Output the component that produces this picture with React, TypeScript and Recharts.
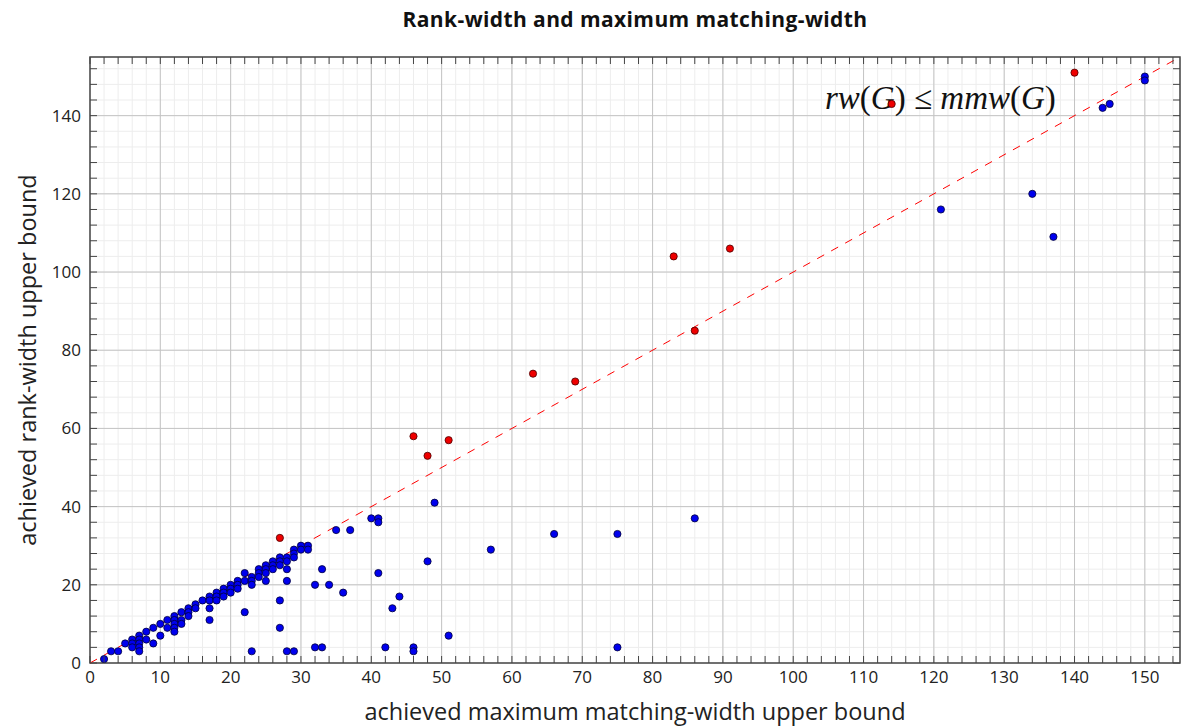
import {
  ScatterChart, Scatter, XAxis, YAxis, CartesianGrid,
  ReferenceLine, ReferenceArea, Customized,
} from "recharts";

const W = 1188;
const H = 727;
const LEFT = 90;
const TOP = 57;
const RIGHT = 8;
const BOTTOM = 64;
const PW = W - LEFT - RIGHT;
const PH = H - TOP - BOTTOM;

const font = "'Open Sans', 'Noto Sans', sans-serif";
const frame = "#444";

// (mmw, rw) pairs where rw stays under the diagonal-ish group
const blueX = [
  2, 3, 4, 5, 6, 6, 6, 7, 7, 7, 7, 7, 8, 8, 9, 9, 10, 10, 11, 11,
  12, 12, 12, 12, 12, 13, 13, 13, 14, 14, 14, 15, 15, 16, 17, 17, 17, 17, 18, 18,
  18, 19, 19, 19, 20, 20, 20, 21, 21, 21, 22, 22, 22, 23, 23, 23, 23, 24, 24, 24,
  25, 25, 25, 25, 26, 26, 26, 27, 27, 27, 27, 27, 28, 28, 28, 28, 28, 29, 29, 29,
  29, 30, 30, 31, 31, 32, 32, 33, 33, 34, 35, 36, 37, 40, 41, 41, 41, 42, 43, 44,
  46, 46, 48, 49, 51, 57, 66, 75, 75, 86, 121, 134, 137, 144, 145, 150, 150,
];
const blueY = [
  1, 3, 3, 5, 6, 5, 4, 7, 6, 5, 4, 3, 8, 6, 9, 5, 10, 7, 11, 9,
  12, 11, 10, 9, 8, 13, 11, 10, 14, 13, 12, 15, 14, 16, 17, 16, 14, 11, 18, 17,
  16, 19, 18, 17, 20, 19, 18, 21, 20, 19, 23, 21, 13, 22, 21, 20, 3, 24, 23, 22,
  25, 24, 23, 21, 26, 25, 24, 27, 26, 25, 16, 9, 27, 26, 24, 21, 3, 29, 28, 27,
  3, 30, 29, 30, 29, 20, 4, 24, 4, 20, 34, 18, 34, 37, 37, 36, 23, 4, 14, 17,
  4, 3, 26, 41, 7, 29, 33, 33, 4, 37, 116, 120, 109, 142, 143, 150, 149,
];

const redX = [27, 46, 48, 51, 63, 69, 83, 86, 91, 114, 140];
const redY = [32, 58, 53, 57, 74, 72, 104, 85, 106, 143, 151];

const xLabels = [0, 10, 20, 30, 40, 50, 60, 70, 80, 90, 100, 110, 120, 130, 140, 150];
const yLabels = [0, 20, 40, 60, 80, 100, 120, 140];
const xMinor = Array.from({ length: 78 }, (_, i) => i * 2);
const yMinor = Array.from({ length: 39 }, (_, i) => i * 4);

const blue = blueX.map((x, i) => ({ x, y: blueY[i] }));
const red = redX.map((x, i) => ({ x, y: redY[i] }));

function XTick({ x, y, payload }: any) {
  const v = payload.value;
  const major = v % 10 === 0;
  return (
    <g>
      <line x1={x} y1={y} x2={x} y2={y - 7} stroke={frame} />
      <line x1={x} y1={y - PH} x2={x} y2={y - PH + 7} stroke={frame} />
      {major && (
        <text x={x} y={y + 20} textAnchor="middle" fontSize={17} fill="#222" fontFamily={font}>
          {v}
        </text>
      )}
    </g>
  );
}

function YTick({ x, y, payload }: any) {
  const v = payload.value;
  const major = v % 20 === 0;
  return (
    <g>
      <line x1={x} y1={y} x2={x + 7} y2={y} stroke={frame} />
      <line x1={x + PW} y1={y} x2={x + PW - 7} y2={y} stroke={frame} />
      {major && (
        <text x={x - 9} y={y} dy="0.35em" textAnchor="end" fontSize={17} fill="#222" fontFamily={font}>
          {v}
        </text>
      )}
    </g>
  );
}

function Labels() {
  const cx = LEFT + PW / 2;
  const cy = TOP + PH / 2;
  return (
    <g>
      <text
        x={cx} y={27} textAnchor="middle" fontSize={21} fontWeight="bold" letterSpacing={0.4}
        fill="#111" fontFamily={font}
      >
        Rank-width and maximum matching-width
      </text>
      <text x={cx} y={720} textAnchor="middle" fontSize={23.5} fill="#222" fontFamily={font}>
        achieved maximum matching-width upper bound
      </text>
      <text
        x={28} y={cy} textAnchor="middle" dy="0.35em" fontSize={23.5} fill="#222" fontFamily={font}
        transform={`rotate(-90 28 ${cy})`}
      >
        achieved rank-width upper bound
      </text>
      <text x={825} y={109} fontSize={33} fill="#111" fontFamily="'Liberation Serif', 'DejaVu Serif', serif">
        <tspan fontStyle="italic">rw</tspan>
        <tspan>(</tspan>
        <tspan fontStyle="italic">G</tspan>
        <tspan>) ≤ </tspan>
        <tspan fontStyle="italic">mmw</tspan>
        <tspan>(</tspan>
        <tspan fontStyle="italic">G</tspan>
        <tspan>)</tspan>
      </text>
    </g>
  );
}

const dot = (fill: string, stroke: string) => (p: any) => (
  <circle cx={p.cx} cy={p.cy} r={3.6} fill={fill} stroke={stroke} strokeWidth={0.8} />
);

export default function App() {
  return (
    <div style={{ width: W, height: H, background: "#fff" }}>
      <style>{"body{margin:0}"}</style>
      <ScatterChart width={W} height={H} margin={{ top: TOP, right: RIGHT, left: 0, bottom: 0 }}>
        <CartesianGrid stroke="#ededed" strokeWidth={1} />
        <CartesianGrid
          stroke="#c4c4c4" strokeWidth={1}
          verticalValues={xLabels.slice(1)} horizontalValues={yLabels.slice(1)}
        />
        <XAxis
          type="number" dataKey="x" domain={[0, 155]} ticks={xMinor} interval={0}
          height={BOTTOM} tickSize={0} tickMargin={0} axisLine={false} tick={<XTick />}
        />
        <YAxis
          type="number" dataKey="y" domain={[0, 155]} ticks={yMinor} interval={0}
          width={LEFT} tickSize={0} tickMargin={0} axisLine={false} tick={<YTick />}
        />
        <ReferenceArea x1={0} x2={155} y1={0} y2={155} fill="none" stroke={frame} strokeWidth={1.5} />
        <Customized component={<Labels />} />
        <ReferenceLine
          segment={[{ x: 0, y: 0 }, { x: 155, y: 155 }]}
          stroke="#ff0000" strokeWidth={1} strokeDasharray="8 8"
        />
        <Scatter data={blue} shape={dot("#0000ee", "#00003a")} isAnimationActive={false} />
        <Scatter data={red} shape={dot("#ee0000", "#4a0000")} isAnimationActive={false} />
      </ScatterChart>
    </div>
  );
}
